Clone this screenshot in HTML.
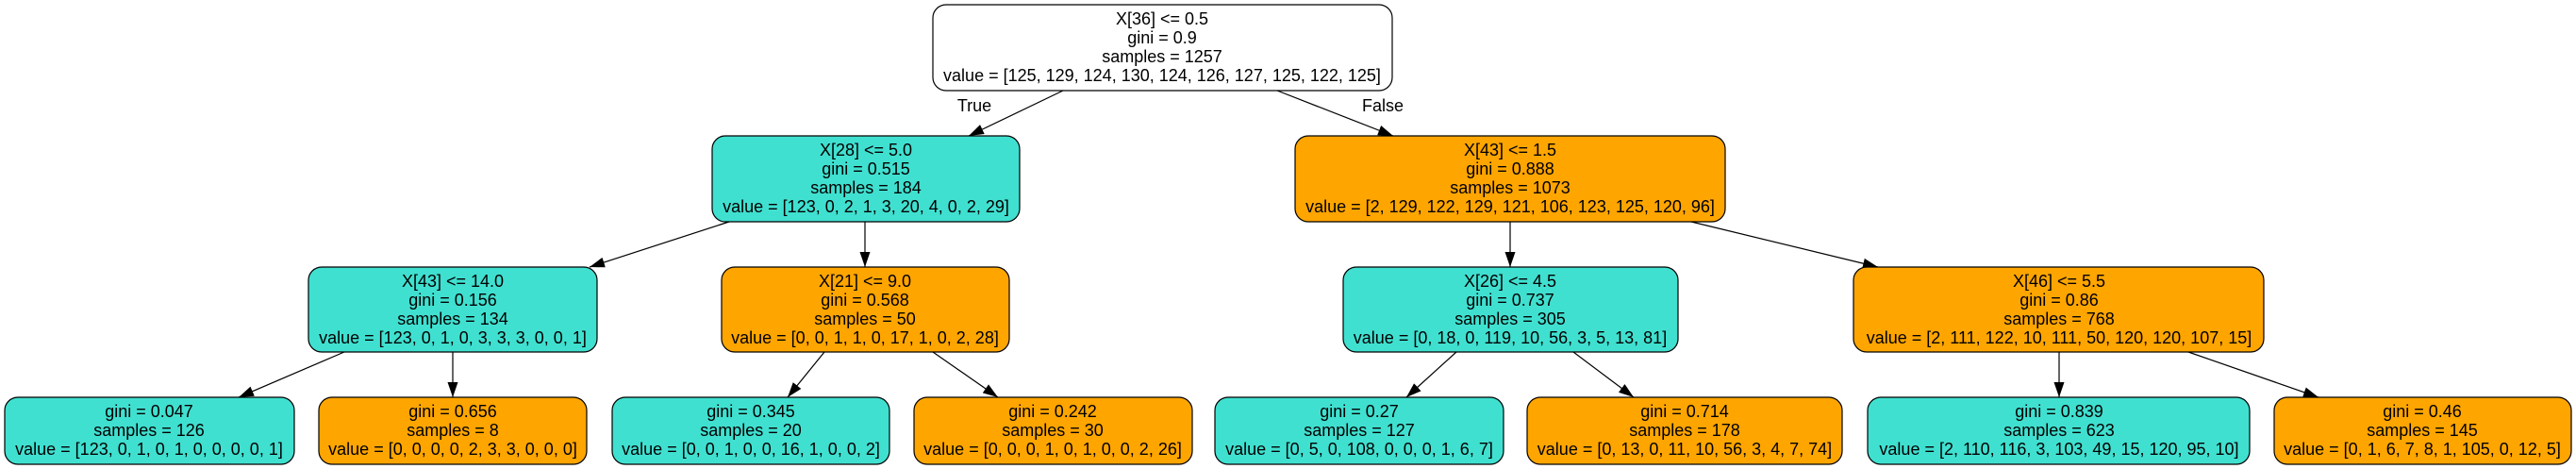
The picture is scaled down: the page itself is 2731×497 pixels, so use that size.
<!DOCTYPE html>
<html><head><meta charset="utf-8"><style>html,body{margin:0;padding:0;background:#fff}svg{display:block}text{font-family:"Liberation Sans",Arial,sans-serif;font-size:18px;fill:#000;text-anchor:middle}</style></head><body>
<svg width="2731" height="497" viewBox="0 0 2731 497" xmlns="http://www.w3.org/2000/svg">
<defs><marker id="a" viewBox="0 0 16 12" refX="16" refY="6" markerWidth="16" markerHeight="12" markerUnits="userSpaceOnUse" orient="auto"><path d="M0,0.5 L16,6 L0,11.5 z" fill="#000"/></marker></defs>
<g stroke="#000" stroke-width="1.2" fill="none" marker-end="url(#a)">
<line x1="1127" y1="96" x2="1027" y2="144"/>
<line x1="1354" y1="96" x2="1477" y2="144"/>
<line x1="773" y1="235" x2="625" y2="283"/>
<line x1="917" y1="235" x2="917" y2="283"/>
<line x1="1601" y1="235" x2="1601" y2="283"/>
<line x1="1793" y1="235" x2="1991" y2="283"/>
<line x1="365" y1="373" x2="253" y2="421"/>
<line x1="480" y1="373" x2="480" y2="421"/>
<line x1="874" y1="373" x2="835" y2="421"/>
<line x1="989" y1="373" x2="1058" y2="421"/>
<line x1="1544" y1="373" x2="1491" y2="421"/>
<line x1="1668" y1="373" x2="1732" y2="421"/>
<line x1="2183" y1="373" x2="2183" y2="421"/>
<line x1="2320" y1="373" x2="2458" y2="421"/>
</g>
<text x="1033" y="118">True</text>
<text x="1466" y="118">False</text>
<g stroke="#000" stroke-width="1.2">
<rect x="989" y="5" width="487" height="91" rx="14" fill="#fff"/>
<rect x="755" y="144" width="326" height="91" rx="14" fill="#40e0d0"/>
<rect x="1373" y="144" width="456" height="91" rx="14" fill="#ffa500"/>
<rect x="327" y="283" width="306" height="90" rx="14" fill="#40e0d0"/>
<rect x="765" y="283" width="305" height="90" rx="14" fill="#ffa500"/>
<rect x="1424" y="283" width="355" height="90" rx="14" fill="#40e0d0"/>
<rect x="1965" y="283" width="435" height="90" rx="14" fill="#ffa500"/>
<rect x="5" y="421" width="307" height="71" rx="14" fill="#40e0d0"/>
<rect x="338" y="421" width="284" height="71" rx="14" fill="#ffa500"/>
<rect x="649" y="421" width="294" height="71" rx="14" fill="#40e0d0"/>
<rect x="969" y="421" width="295" height="71" rx="14" fill="#ffa500"/>
<rect x="1288" y="421" width="306" height="71" rx="14" fill="#40e0d0"/>
<rect x="1619" y="421" width="334" height="71" rx="14" fill="#ffa500"/>
<rect x="1980" y="421" width="405" height="71" rx="14" fill="#40e0d0"/>
<rect x="2411" y="421" width="315" height="71" rx="14" fill="#ffa500"/>
</g>
<text x="1232" y="26">X[36] &lt;= 0.5</text><text x="1232" y="46">gini = 0.9</text><text x="1232" y="66">samples = 1257</text><text x="1232" y="86">value = [125, 129, 124, 130, 124, 126, 127, 125, 122, 125]</text>
<text x="918" y="165">X[28] &lt;= 5.0</text><text x="918" y="185">gini = 0.515</text><text x="918" y="205">samples = 184</text><text x="918" y="225">value = [123, 0, 2, 1, 3, 20, 4, 0, 2, 29]</text>
<text x="1601" y="165">X[43] &lt;= 1.5</text><text x="1601" y="185">gini = 0.888</text><text x="1601" y="205">samples = 1073</text><text x="1601" y="225">value = [2, 129, 122, 129, 121, 106, 123, 125, 120, 96]</text>
<text x="480" y="304">X[43] &lt;= 14.0</text><text x="480" y="324">gini = 0.156</text><text x="480" y="344">samples = 134</text><text x="480" y="364">value = [123, 0, 1, 0, 3, 3, 3, 0, 0, 1]</text>
<text x="917" y="304">X[21] &lt;= 9.0</text><text x="917" y="324">gini = 0.568</text><text x="917" y="344">samples = 50</text><text x="917" y="364">value = [0, 0, 1, 1, 0, 17, 1, 0, 2, 28]</text>
<text x="1601" y="304">X[26] &lt;= 4.5</text><text x="1601" y="324">gini = 0.737</text><text x="1601" y="344">samples = 305</text><text x="1601" y="364">value = [0, 18, 0, 119, 10, 56, 3, 5, 13, 81]</text>
<text x="2183" y="304">X[46] &lt;= 5.5</text><text x="2183" y="324">gini = 0.86</text><text x="2183" y="344">samples = 768</text><text x="2183" y="364">value = [2, 111, 122, 10, 111, 50, 120, 120, 107, 15]</text>
<text x="158" y="442">gini = 0.047</text><text x="158" y="462">samples = 126</text><text x="158" y="482">value = [123, 0, 1, 0, 1, 0, 0, 0, 0, 1]</text>
<text x="480" y="442">gini = 0.656</text><text x="480" y="462">samples = 8</text><text x="480" y="482">value = [0, 0, 0, 0, 2, 3, 3, 0, 0, 0]</text>
<text x="796" y="442">gini = 0.345</text><text x="796" y="462">samples = 20</text><text x="796" y="482">value = [0, 0, 1, 0, 0, 16, 1, 0, 0, 2]</text>
<text x="1116" y="442">gini = 0.242</text><text x="1116" y="462">samples = 30</text><text x="1116" y="482">value = [0, 0, 0, 1, 0, 1, 0, 0, 2, 26]</text>
<text x="1441" y="442">gini = 0.27</text><text x="1441" y="462">samples = 127</text><text x="1441" y="482">value = [0, 5, 0, 108, 0, 0, 0, 1, 6, 7]</text>
<text x="1786" y="442">gini = 0.714</text><text x="1786" y="462">samples = 178</text><text x="1786" y="482">value = [0, 13, 0, 11, 10, 56, 3, 4, 7, 74]</text>
<text x="2183" y="442">gini = 0.839</text><text x="2183" y="462">samples = 623</text><text x="2183" y="482">value = [2, 110, 116, 3, 103, 49, 15, 120, 95, 10]</text>
<text x="2568" y="442">gini = 0.46</text><text x="2568" y="462">samples = 145</text><text x="2568" y="482">value = [0, 1, 6, 7, 8, 1, 105, 0, 12, 5]</text>
</svg>
</body></html>
